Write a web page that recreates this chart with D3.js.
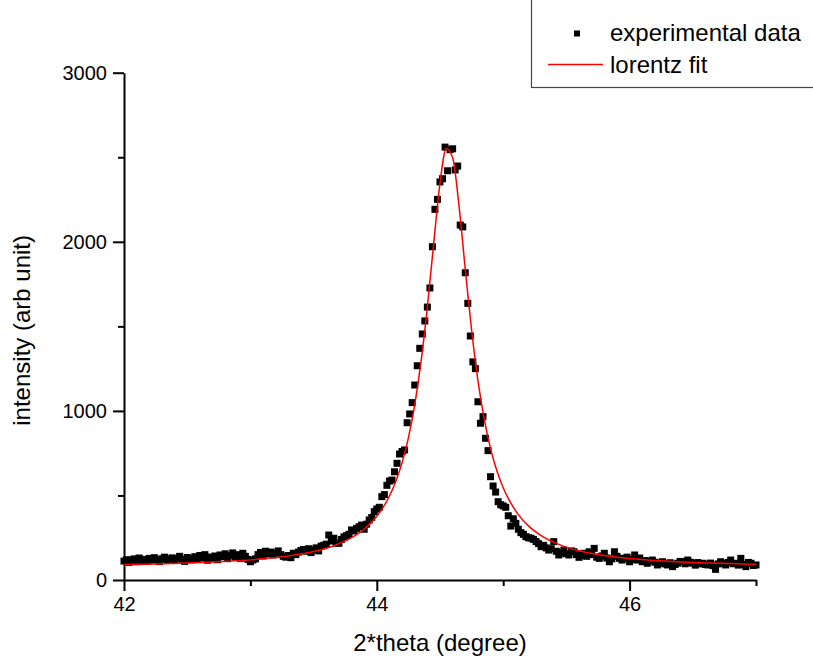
<!DOCTYPE html>
<html>
<head>
<meta charset="utf-8">
<script src="https://cdn.jsdelivr.net/npm/d3@7"></script>
<style>
  html, body { margin: 0; padding: 0; background: #fff; }
  svg { display: block; font-family: "Liberation Sans", Arial, Helvetica, sans-serif; }
</style>
</head>
<body>
<svg id="chart" width="813" height="659"></svg>
<script>
// XRD scan: 2θ positions (degrees), 0.02° step
const angle = [
  42.00,42.02,42.04,42.06,42.08,42.10,42.12,42.14,42.16,42.18,
  42.20,42.22,42.24,42.26,42.28,42.30,42.32,42.34,42.36,42.38,
  42.40,42.42,42.44,42.46,42.48,42.50,42.52,42.54,42.56,42.58,
  42.60,42.62,42.64,42.66,42.68,42.70,42.72,42.74,42.76,42.78,
  42.80,42.82,42.84,42.86,42.88,42.90,42.92,42.94,42.96,42.98,
  43.00,43.02,43.04,43.06,43.08,43.10,43.12,43.14,43.16,43.18,
  43.20,43.22,43.24,43.26,43.28,43.30,43.32,43.34,43.36,43.38,
  43.40,43.42,43.44,43.46,43.48,43.50,43.52,43.54,43.56,43.58,
  43.60,43.62,43.64,43.66,43.68,43.70,43.72,43.74,43.76,43.78,
  43.80,43.82,43.84,43.86,43.88,43.90,43.92,43.94,43.96,43.98,
  44.00,44.02,44.04,44.06,44.08,44.10,44.12,44.14,44.16,44.18,
  44.20,44.22,44.24,44.26,44.28,44.30,44.32,44.34,44.36,44.38,
  44.40,44.42,44.44,44.46,44.48,44.50,44.52,44.54,44.56,44.58,
  44.60,44.62,44.64,44.66,44.68,44.70,44.72,44.74,44.76,44.78,
  44.80,44.82,44.84,44.86,44.88,44.90,44.92,44.94,44.96,44.98,
  45.00,45.02,45.04,45.06,45.08,45.10,45.12,45.14,45.16,45.18,
  45.20,45.22,45.24,45.26,45.28,45.30,45.32,45.34,45.36,45.38,
  45.40,45.42,45.44,45.46,45.48,45.50,45.52,45.54,45.56,45.58,
  45.60,45.62,45.64,45.66,45.68,45.70,45.72,45.74,45.76,45.78,
  45.80,45.82,45.84,45.86,45.88,45.90,45.92,45.94,45.96,45.98,
  46.00,46.02,46.04,46.06,46.08,46.10,46.12,46.14,46.16,46.18,
  46.20,46.22,46.24,46.26,46.28,46.30,46.32,46.34,46.36,46.38,
  46.40,46.42,46.44,46.46,46.48,46.50,46.52,46.54,46.56,46.58,
  46.60,46.62,46.64,46.66,46.68,46.70,46.72,46.74,46.76,46.78,
  46.80,46.82,46.84,46.86,46.88,46.90,46.92,46.94,46.96,46.98,
  47.00
];

// measured counts at each 2θ position
const intensity = [
  112,120,104,118,125,108,130,115,122,110,
  128,117,132,121,109,126,135,118,124,131,
  115,127,140,122,110,133,126,119,138,124,
  145,130,150,117,136,128,142,120,148,138,
  155,126,144,160,135,150,128,158,140,122,
  108,118,125,150,163,142,170,155,165,148,
  160,172,150,140,135,145,132,158,150,165,
  175,180,170,185,162,178,190,172,200,205,
  212,266,230,247,218,217,240,255,262,270,
  296,290,305,315,325,300,330,355,370,404,
  420,430,493,505,560,585,591,640,690,745,
  760,769,930,982,1049,1153,1267,1370,1455,1532,
  1614,1727,1971,2192,2251,2354,2373,2560,2420,2545,
  2550,2425,2448,2099,2088,1817,1636,1443,1290,1250,
  1054,927,966,838,765,611,556,520,463,445,
  438,430,380,319,362,335,300,280,270,256,
  250,247,240,227,215,197,205,190,177,185,
  227,170,148,160,177,155,148,172,167,150,
  134,145,158,140,167,150,187,135,128,142,
  158,130,108,125,167,140,128,118,128,135,
  108,122,148,118,130,108,115,99,112,118,
  105,89,100,108,95,89,102,79,92,99,
  110,108,96,118,105,99,88,103,95,99,
  92,89,100,85,63,95,108,98,89,104,
  118,96,99,88,128,92,79,104,99,86,
  89
];

// Lorentz fit curve, sampled
const fitAngle = [
  42.0,42.25,42.5,42.75,43.0,43.25,43.5,43.65,43.8,43.9,
  44.0,44.05,44.1,44.15,44.2,44.25,44.3,44.35,44.4,44.45,
  44.5,44.55,44.6,44.65,44.7,44.75,44.8,44.85,44.9,44.95,
  45.0,45.1,45.2,45.3,45.45,45.6,45.8,46.0,46.3,46.6,46.8,47.0
];
const fitIntensity = [
  92,95,100,108,119,137,168,200,250,301,
  377,430,497,583,694,841,1036,1291,1615,1990,
  2347,2552,2498,2215,1837,1477,1181,951,777,646,
  546,407,320,263,208,173,145,127,111,101,97,93
];

const xMajorTicks = [42, 44, 46];
const xMinorTicks = [43, 45, 47];
const yMajorTicks = [0, 1000, 2000, 3000];
const yMinorTicks = [500, 1500, 2500];
const legendLabels = ["experimental data", "lorentz fit"];
const xTitle = "2*theta (degree)";
const yTitle = "intensity (arb unit)";

const svg = d3.select("#chart");
const x = d3.scaleLinear().domain([42, 47]).range([124, 756]);
const y = d3.scaleLinear().domain([0, 3000]).range([580, 72.7]);

const fontSizeTick = 20;
const fontSizeTitle = 24;

// axes
function styleAxis(g) {
  g.selectAll("path.domain").attr("stroke", "#000").attr("stroke-width", 2);
  g.selectAll(".tick line").attr("stroke", "#000").attr("stroke-width", 2);
  g.selectAll(".tick text").attr("fill", "#000").attr("font-size", fontSizeTick)
    .attr("font-family", '"Liberation Sans", Arial, sans-serif');
}

const xAxisG = svg.append("g").attr("transform", `translate(0,${y(0)})`)
  .call(d3.axisBottom(x).tickValues(xMajorTicks).tickSize(11).tickSizeOuter(0)
    .tickPadding(6).tickFormat(d3.format("d")));
styleAxis(xAxisG);

const xMinorG = svg.append("g").attr("transform", `translate(0,${y(0)})`)
  .call(d3.axisBottom(x).tickValues(xMinorTicks).tickSize(6).tickSizeOuter(0).tickFormat(""));
xMinorG.select("path.domain").remove();
styleAxis(xMinorG);

const yAxisG = svg.append("g").attr("transform", `translate(${x(42)},0)`)
  .call(d3.axisLeft(y).tickValues(yMajorTicks).tickSize(11).tickSizeOuter(0)
    .tickPadding(6).tickFormat(d3.format("d")));
styleAxis(yAxisG);

const yMinorG = svg.append("g").attr("transform", `translate(${x(42)},0)`)
  .call(d3.axisLeft(y).tickValues(yMinorTicks).tickSize(6).tickSizeOuter(0).tickFormat(""));
yMinorG.select("path.domain").remove();
styleAxis(yMinorG);

// axis titles
svg.append("text")
  .attr("x", (x(42) + x(47)) / 2).attr("y", 651)
  .attr("text-anchor", "middle").attr("font-size", fontSizeTitle).attr("fill", "#000")
  .text(xTitle);

svg.append("text")
  .attr("transform", `translate(30,${(y(0) + y(3000)) / 2 + 4}) rotate(-90)`)
  .attr("text-anchor", "middle").attr("font-size", fontSizeTitle).attr("fill", "#000")
  .text(yTitle);

// experimental points
const marker = 7;
svg.append("g").selectAll("rect")
  .data(angle.map((a, i) => ({ a, v: intensity[i] })))
  .join("rect")
  .attr("x", d => x(d.a) - marker / 2)
  .attr("y", d => y(d.v) - marker / 2)
  .attr("width", marker).attr("height", marker)
  .attr("fill", "#000");

// Lorentz fit
const fitLine = d3.line()
  .x((d, i) => x(fitAngle[i]))
  .y(d => y(d))
  .curve(d3.curveMonotoneX);

svg.append("path")
  .attr("d", fitLine(fitIntensity))
  .attr("fill", "none").attr("stroke", "#ff0000").attr("stroke-width", 1.5);

// legend
const legend = svg.append("g");
legend.append("rect")
  .attr("x", 531.5).attr("y", -5).attr("width", 300).attr("height", 92.5)
  .attr("fill", "#fff").attr("stroke", "#444").attr("stroke-width", 1.2);
legend.append("rect")
  .attr("x", 574).attr("y", 30.5).attr("width", 6).attr("height", 6).attr("fill", "#000");
legend.append("line")
  .attr("x1", 548).attr("x2", 603).attr("y1", 64.5).attr("y2", 64.5)
  .attr("stroke", "#ff0000").attr("stroke-width", 1.5);
legend.selectAll("text.lbl")
  .data(legendLabels)
  .join("text")
  .attr("class", "lbl")
  .attr("x", 610)
  .attr("y", (d, i) => 40.5 + i * 32)
  .attr("font-size", fontSizeTitle).attr("fill", "#000")
  .text(d => d);
</script>
</body>
</html>
